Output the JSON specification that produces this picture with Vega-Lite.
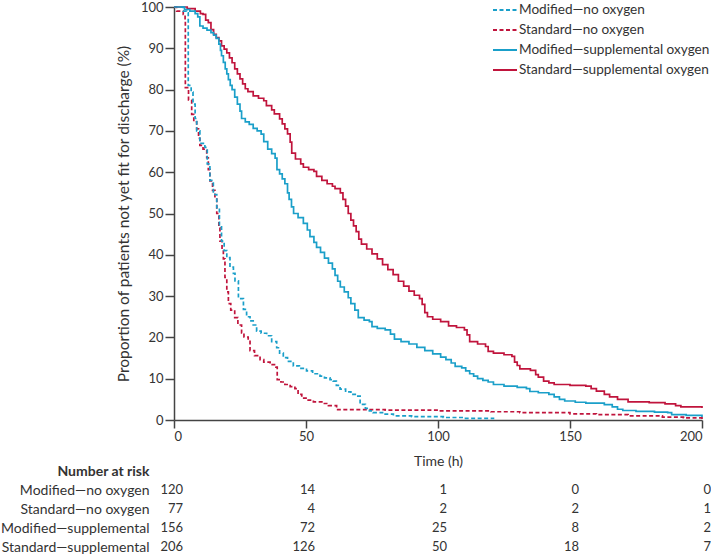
{
  "$schema": "https://vega.github.io/schema/vega-lite/v6.json",
  "background": "white",
  "padding": {"left": 0, "top": -3, "right": 0, "bottom": 0},
  "config": {
    "font": "Lato",
    "view": {"stroke": null},
    "axis": {"labelColor": "#333333", "titleColor": "#333333", "domainColor": "#444444", "tickColor": "#444444", "labelFontSize": 13, "titleFontSize": 14, "titleFontWeight": "normal", "grid": false, "domainWidth": 1.5, "tickWidth": 1.5}
  },
  "datasets": {
    "curves": [
      {"g":"Standard—supplemental oxygen","t":0,"v":100},{"g":"Standard—supplemental oxygen","t":5,"v":99.6},{"g":"Standard—supplemental oxygen","t":8,"v":99},{"g":"Standard—supplemental oxygen","t":10,"v":98.4},{"g":"Standard—supplemental oxygen","t":11,"v":98.2},{"g":"Standard—supplemental oxygen","t":12,"v":96.8},{"g":"Standard—supplemental oxygen","t":13,"v":96.2},{"g":"Standard—supplemental oxygen","t":14,"v":94.5},{"g":"Standard—supplemental oxygen","t":15,"v":93.4},{"g":"Standard—supplemental oxygen","t":16,"v":92.6},{"g":"Standard—supplemental oxygen","t":17,"v":91.8},{"g":"Standard—supplemental oxygen","t":18,"v":90.6},{"g":"Standard—supplemental oxygen","t":19,"v":89.8},{"g":"Standard—supplemental oxygen","t":20,"v":88.9},{"g":"Standard—supplemental oxygen","t":21,"v":87.7},{"g":"Standard—supplemental oxygen","t":22,"v":86.5},{"g":"Standard—supplemental oxygen","t":23,"v":85},{"g":"Standard—supplemental oxygen","t":24,"v":83.8},{"g":"Standard—supplemental oxygen","t":25,"v":82.6},{"g":"Standard—supplemental oxygen","t":26,"v":81.4},{"g":"Standard—supplemental oxygen","t":27,"v":80.2},{"g":"Standard—supplemental oxygen","t":28,"v":79.5},{"g":"Standard—supplemental oxygen","t":30,"v":78.5},{"g":"Standard—supplemental oxygen","t":32,"v":77.9},{"g":"Standard—supplemental oxygen","t":34,"v":77.3},{"g":"Standard—supplemental oxygen","t":35,"v":76.1},{"g":"Standard—supplemental oxygen","t":37,"v":75.1},{"g":"Standard—supplemental oxygen","t":38,"v":74.1},{"g":"Standard—supplemental oxygen","t":40,"v":72.9},{"g":"Standard—supplemental oxygen","t":41,"v":71.7},{"g":"Standard—supplemental oxygen","t":42,"v":70.5},{"g":"Standard—supplemental oxygen","t":43,"v":69.3},{"g":"Standard—supplemental oxygen","t":44,"v":67.3},{"g":"Standard—supplemental oxygen","t":44.6,"v":64.6},{"g":"Standard—supplemental oxygen","t":46,"v":63.2},{"g":"Standard—supplemental oxygen","t":48,"v":62},{"g":"Standard—supplemental oxygen","t":49,"v":61.2},{"g":"Standard—supplemental oxygen","t":51,"v":60.6},{"g":"Standard—supplemental oxygen","t":53,"v":60.2},{"g":"Standard—supplemental oxygen","t":54,"v":59},{"g":"Standard—supplemental oxygen","t":56,"v":58},{"g":"Standard—supplemental oxygen","t":58,"v":57.2},{"g":"Standard—supplemental oxygen","t":60,"v":56.6},{"g":"Standard—supplemental oxygen","t":61,"v":56},{"g":"Standard—supplemental oxygen","t":63,"v":55},{"g":"Standard—supplemental oxygen","t":64,"v":53.4},{"g":"Standard—supplemental oxygen","t":65,"v":51.8},{"g":"Standard—supplemental oxygen","t":66,"v":50},{"g":"Standard—supplemental oxygen","t":67,"v":48.4},{"g":"Standard—supplemental oxygen","t":68,"v":47},{"g":"Standard—supplemental oxygen","t":69,"v":45.6},{"g":"Standard—supplemental oxygen","t":70,"v":43.8},{"g":"Standard—supplemental oxygen","t":71,"v":42.6},{"g":"Standard—supplemental oxygen","t":73,"v":41.4},{"g":"Standard—supplemental oxygen","t":75,"v":40.2},{"g":"Standard—supplemental oxygen","t":77,"v":39},{"g":"Standard—supplemental oxygen","t":79,"v":37.6},{"g":"Standard—supplemental oxygen","t":81,"v":36.4},{"g":"Standard—supplemental oxygen","t":83,"v":35.2},{"g":"Standard—supplemental oxygen","t":85,"v":33.6},{"g":"Standard—supplemental oxygen","t":87,"v":32.4},{"g":"Standard—supplemental oxygen","t":89,"v":31.2},{"g":"Standard—supplemental oxygen","t":91,"v":30.2},{"g":"Standard—supplemental oxygen","t":93,"v":29.4},{"g":"Standard—supplemental oxygen","t":94,"v":28},{"g":"Standard—supplemental oxygen","t":95,"v":26},{"g":"Standard—supplemental oxygen","t":96,"v":25},{"g":"Standard—supplemental oxygen","t":98,"v":24.4},{"g":"Standard—supplemental oxygen","t":101,"v":23.8},{"g":"Standard—supplemental oxygen","t":104,"v":22.8},{"g":"Standard—supplemental oxygen","t":107,"v":22.4},{"g":"Standard—supplemental oxygen","t":110,"v":21.8},{"g":"Standard—supplemental oxygen","t":111,"v":20.6},{"g":"Standard—supplemental oxygen","t":112,"v":19},{"g":"Standard—supplemental oxygen","t":115,"v":18.4},{"g":"Standard—supplemental oxygen","t":118,"v":17.8},{"g":"Standard—supplemental oxygen","t":119,"v":16.6},{"g":"Standard—supplemental oxygen","t":121,"v":16.2},{"g":"Standard—supplemental oxygen","t":125,"v":15.8},{"g":"Standard—supplemental oxygen","t":128,"v":15.4},{"g":"Standard—supplemental oxygen","t":129,"v":14},{"g":"Standard—supplemental oxygen","t":130,"v":13.2},{"g":"Standard—supplemental oxygen","t":131,"v":12.4},{"g":"Standard—supplemental oxygen","t":135,"v":12},{"g":"Standard—supplemental oxygen","t":137,"v":11},{"g":"Standard—supplemental oxygen","t":138,"v":10.4},{"g":"Standard—supplemental oxygen","t":140,"v":9.4},{"g":"Standard—supplemental oxygen","t":142,"v":9},{"g":"Standard—supplemental oxygen","t":144,"v":8.6},{"g":"Standard—supplemental oxygen","t":150,"v":8.4},{"g":"Standard—supplemental oxygen","t":156,"v":8.2},{"g":"Standard—supplemental oxygen","t":158,"v":7.6},{"g":"Standard—supplemental oxygen","t":160,"v":7},{"g":"Standard—supplemental oxygen","t":163,"v":6.2},{"g":"Standard—supplemental oxygen","t":165,"v":5.6},{"g":"Standard—supplemental oxygen","t":168,"v":5},{"g":"Standard—supplemental oxygen","t":172,"v":4.4},{"g":"Standard—supplemental oxygen","t":180,"v":4.2},{"g":"Standard—supplemental oxygen","t":186,"v":3.9},{"g":"Standard—supplemental oxygen","t":190,"v":3.5},{"g":"Standard—supplemental oxygen","t":192,"v":3.2},{"g":"Standard—supplemental oxygen","t":200,"v":2.9},

      {"g":"Modified—supplemental oxygen","t":0,"v":100},{"g":"Modified—supplemental oxygen","t":4,"v":99.4},{"g":"Modified—supplemental oxygen","t":6,"v":99},{"g":"Modified—supplemental oxygen","t":8,"v":98.4},{"g":"Modified—supplemental oxygen","t":9,"v":97.6},{"g":"Modified—supplemental oxygen","t":9.8,"v":95.4},{"g":"Modified—supplemental oxygen","t":11,"v":94.9},{"g":"Modified—supplemental oxygen","t":12.5,"v":94.4},{"g":"Modified—supplemental oxygen","t":14,"v":93.8},{"g":"Modified—supplemental oxygen","t":15,"v":93.2},{"g":"Modified—supplemental oxygen","t":16,"v":92.4},{"g":"Modified—supplemental oxygen","t":17,"v":91},{"g":"Modified—supplemental oxygen","t":17.6,"v":89.5},{"g":"Modified—supplemental oxygen","t":18,"v":88.2},{"g":"Modified—supplemental oxygen","t":18.7,"v":86.6},{"g":"Modified—supplemental oxygen","t":19.4,"v":85},{"g":"Modified—supplemental oxygen","t":20,"v":83.8},{"g":"Modified—supplemental oxygen","t":20.6,"v":82.4},{"g":"Modified—supplemental oxygen","t":21.3,"v":81},{"g":"Modified—supplemental oxygen","t":22,"v":80},{"g":"Modified—supplemental oxygen","t":23,"v":78.2},{"g":"Modified—supplemental oxygen","t":24,"v":76.5},{"g":"Modified—supplemental oxygen","t":25,"v":74.8},{"g":"Modified—supplemental oxygen","t":25.6,"v":73},{"g":"Modified—supplemental oxygen","t":27,"v":72.2},{"g":"Modified—supplemental oxygen","t":28.5,"v":71.6},{"g":"Modified—supplemental oxygen","t":30,"v":70.6},{"g":"Modified—supplemental oxygen","t":31.5,"v":70},{"g":"Modified—supplemental oxygen","t":33,"v":69.2},{"g":"Modified—supplemental oxygen","t":34,"v":67.4},{"g":"Modified—supplemental oxygen","t":35.5,"v":65.6},{"g":"Modified—supplemental oxygen","t":37,"v":64.5},{"g":"Modified—supplemental oxygen","t":38.3,"v":63.4},{"g":"Modified—supplemental oxygen","t":39,"v":60.6},{"g":"Modified—supplemental oxygen","t":40,"v":59.6},{"g":"Modified—supplemental oxygen","t":41,"v":58.4},{"g":"Modified—supplemental oxygen","t":42,"v":57.2},{"g":"Modified—supplemental oxygen","t":43,"v":55},{"g":"Modified—supplemental oxygen","t":43.6,"v":53.4},{"g":"Modified—supplemental oxygen","t":44.5,"v":51.6},{"g":"Modified—supplemental oxygen","t":45.3,"v":50},{"g":"Modified—supplemental oxygen","t":47,"v":49},{"g":"Modified—supplemental oxygen","t":49,"v":47.6},{"g":"Modified—supplemental oxygen","t":50.5,"v":46},{"g":"Modified—supplemental oxygen","t":51.5,"v":44.4},{"g":"Modified—supplemental oxygen","t":53,"v":43},{"g":"Modified—supplemental oxygen","t":54,"v":41.8},{"g":"Modified—supplemental oxygen","t":55.5,"v":40.6},{"g":"Modified—supplemental oxygen","t":57,"v":39.2},{"g":"Modified—supplemental oxygen","t":58.5,"v":38},{"g":"Modified—supplemental oxygen","t":60,"v":36.6},{"g":"Modified—supplemental oxygen","t":61,"v":35},{"g":"Modified—supplemental oxygen","t":62,"v":33.6},{"g":"Modified—supplemental oxygen","t":63,"v":32.2},{"g":"Modified—supplemental oxygen","t":64.5,"v":31},{"g":"Modified—supplemental oxygen","t":66,"v":29.6},{"g":"Modified—supplemental oxygen","t":67,"v":28.2},{"g":"Modified—supplemental oxygen","t":68.5,"v":26.6},{"g":"Modified—supplemental oxygen","t":69.8,"v":24.8},{"g":"Modified—supplemental oxygen","t":72,"v":24.2},{"g":"Modified—supplemental oxygen","t":74,"v":23.8},{"g":"Modified—supplemental oxygen","t":75,"v":22.6},{"g":"Modified—supplemental oxygen","t":77,"v":22.2},{"g":"Modified—supplemental oxygen","t":80,"v":21.8},{"g":"Modified—supplemental oxygen","t":82,"v":20.8},{"g":"Modified—supplemental oxygen","t":83.5,"v":19.6},{"g":"Modified—supplemental oxygen","t":86,"v":19},{"g":"Modified—supplemental oxygen","t":89,"v":18.4},{"g":"Modified—supplemental oxygen","t":92,"v":17.6},{"g":"Modified—supplemental oxygen","t":95,"v":16.8},{"g":"Modified—supplemental oxygen","t":98,"v":16},{"g":"Modified—supplemental oxygen","t":101,"v":15.2},{"g":"Modified—supplemental oxygen","t":103,"v":14.6},{"g":"Modified—supplemental oxygen","t":105,"v":13.8},{"g":"Modified—supplemental oxygen","t":106.5,"v":13},{"g":"Modified—supplemental oxygen","t":109,"v":12.6},{"g":"Modified—supplemental oxygen","t":110.5,"v":11.9},{"g":"Modified—supplemental oxygen","t":112,"v":11.2},{"g":"Modified—supplemental oxygen","t":113.5,"v":10.6},{"g":"Modified—supplemental oxygen","t":115,"v":10},{"g":"Modified—supplemental oxygen","t":117,"v":9.6},{"g":"Modified—supplemental oxygen","t":119,"v":9.2},{"g":"Modified—supplemental oxygen","t":121,"v":8.6},{"g":"Modified—supplemental oxygen","t":125,"v":8.2},{"g":"Modified—supplemental oxygen","t":130,"v":7.9},{"g":"Modified—supplemental oxygen","t":133.5,"v":7.6},{"g":"Modified—supplemental oxygen","t":134.8,"v":6.9},{"g":"Modified—supplemental oxygen","t":138,"v":6.6},{"g":"Modified—supplemental oxygen","t":142,"v":6.2},{"g":"Modified—supplemental oxygen","t":144,"v":5.6},{"g":"Modified—supplemental oxygen","t":146,"v":5},{"g":"Modified—supplemental oxygen","t":148,"v":4.6},{"g":"Modified—supplemental oxygen","t":152,"v":4.3},{"g":"Modified—supplemental oxygen","t":156,"v":4.1},{"g":"Modified—supplemental oxygen","t":163,"v":3.7},{"g":"Modified—supplemental oxygen","t":166,"v":3.2},{"g":"Modified—supplemental oxygen","t":168,"v":2.6},{"g":"Modified—supplemental oxygen","t":170,"v":2.3},{"g":"Modified—supplemental oxygen","t":175,"v":2.1},{"g":"Modified—supplemental oxygen","t":182,"v":1.9},{"g":"Modified—supplemental oxygen","t":187,"v":1.8},{"g":"Modified—supplemental oxygen","t":188.5,"v":1.3},{"g":"Modified—supplemental oxygen","t":194,"v":1.1},{"g":"Modified—supplemental oxygen","t":200,"v":0.7},

      {"g":"Standard—no oxygen","t":0,"v":100},{"g":"Standard—no oxygen","t":1,"v":99},{"g":"Standard—no oxygen","t":3.5,"v":98.2},{"g":"Standard—no oxygen","t":4.2,"v":96.6},{"g":"Standard—no oxygen","t":4.3,"v":80.5},{"g":"Standard—no oxygen","t":5.5,"v":77.5},{"g":"Standard—no oxygen","t":6.7,"v":74},{"g":"Standard—no oxygen","t":7.5,"v":72.2},{"g":"Standard—no oxygen","t":8.6,"v":70.5},{"g":"Standard—no oxygen","t":9.3,"v":68.2},{"g":"Standard—no oxygen","t":9.8,"v":66.5},{"g":"Standard—no oxygen","t":11,"v":65.6},{"g":"Standard—no oxygen","t":12.4,"v":63.5},{"g":"Standard—no oxygen","t":13,"v":60.6},{"g":"Standard—no oxygen","t":13.6,"v":57.9},{"g":"Standard—no oxygen","t":14.6,"v":55.6},{"g":"Standard—no oxygen","t":15.5,"v":53.8},{"g":"Standard—no oxygen","t":16.2,"v":50},{"g":"Standard—no oxygen","t":17,"v":46.5},{"g":"Standard—no oxygen","t":17.4,"v":43.3},{"g":"Standard—no oxygen","t":18.2,"v":41.2},{"g":"Standard—no oxygen","t":18.7,"v":39},{"g":"Standard—no oxygen","t":19.3,"v":34.5},{"g":"Standard—no oxygen","t":20,"v":31},{"g":"Standard—no oxygen","t":20.6,"v":28.2},{"g":"Standard—no oxygen","t":21.5,"v":26.6},{"g":"Standard—no oxygen","t":23,"v":24.8},{"g":"Standard—no oxygen","t":24.2,"v":23},{"g":"Standard—no oxygen","t":25.6,"v":21.1},{"g":"Standard—no oxygen","t":26.5,"v":20.1},{"g":"Standard—no oxygen","t":28.1,"v":19.4},{"g":"Standard—no oxygen","t":28.8,"v":16.8},{"g":"Standard—no oxygen","t":30.5,"v":15.6},{"g":"Standard—no oxygen","t":32.6,"v":14.6},{"g":"Standard—no oxygen","t":34,"v":14},{"g":"Standard—no oxygen","t":36.4,"v":13.4},{"g":"Standard—no oxygen","t":38.6,"v":12.8},{"g":"Standard—no oxygen","t":39.1,"v":9.8},{"g":"Standard—no oxygen","t":40.5,"v":9.2},{"g":"Standard—no oxygen","t":42,"v":8.6},{"g":"Standard—no oxygen","t":44,"v":8.1},{"g":"Standard—no oxygen","t":45.8,"v":7.6},{"g":"Standard—no oxygen","t":47,"v":6.2},{"g":"Standard—no oxygen","t":48.4,"v":5.3},{"g":"Standard—no oxygen","t":50.5,"v":4.8},{"g":"Standard—no oxygen","t":52.8,"v":4.4},{"g":"Standard—no oxygen","t":56,"v":4},{"g":"Standard—no oxygen","t":58.5,"v":3.5},{"g":"Standard—no oxygen","t":61.6,"v":2.5},{"g":"Standard—no oxygen","t":80,"v":2.4},{"g":"Standard—no oxygen","t":100,"v":2.2},{"g":"Standard—no oxygen","t":120,"v":2},{"g":"Standard—no oxygen","t":131,"v":1.8},{"g":"Standard—no oxygen","t":150,"v":1.5},{"g":"Standard—no oxygen","t":160,"v":1.3},{"g":"Standard—no oxygen","t":172,"v":1},{"g":"Standard—no oxygen","t":185,"v":0.7},{"g":"Standard—no oxygen","t":193,"v":0.5},{"g":"Standard—no oxygen","t":200,"v":0.2},

      {"g":"Modified—no oxygen","t":0,"v":100},{"g":"Modified—no oxygen","t":3.5,"v":99},{"g":"Modified—no oxygen","t":4.8,"v":98.6},{"g":"Modified—no oxygen","t":5.4,"v":81},{"g":"Modified—no oxygen","t":6.5,"v":79.4},{"g":"Modified—no oxygen","t":7.2,"v":76.5},{"g":"Modified—no oxygen","t":8,"v":73},{"g":"Modified—no oxygen","t":8.6,"v":70},{"g":"Modified—no oxygen","t":9.8,"v":67},{"g":"Modified—no oxygen","t":11.7,"v":66},{"g":"Modified—no oxygen","t":12.6,"v":62},{"g":"Modified—no oxygen","t":13.6,"v":58},{"g":"Modified—no oxygen","t":14.9,"v":54.6},{"g":"Modified—no oxygen","t":16.2,"v":51.4},{"g":"Modified—no oxygen","t":17.2,"v":47},{"g":"Modified—no oxygen","t":18,"v":43.3},{"g":"Modified—no oxygen","t":19,"v":41},{"g":"Modified—no oxygen","t":20,"v":39.3},{"g":"Modified—no oxygen","t":21.2,"v":37},{"g":"Modified—no oxygen","t":22.5,"v":35.5},{"g":"Modified—no oxygen","t":23.1,"v":33.7},{"g":"Modified—no oxygen","t":24.4,"v":29.4},{"g":"Modified—no oxygen","t":26.3,"v":26.8},{"g":"Modified—no oxygen","t":27.5,"v":25},{"g":"Modified—no oxygen","t":28.8,"v":24},{"g":"Modified—no oxygen","t":30,"v":23},{"g":"Modified—no oxygen","t":31.3,"v":21.5},{"g":"Modified—no oxygen","t":33,"v":21},{"g":"Modified—no oxygen","t":35.1,"v":20.4},{"g":"Modified—no oxygen","t":37,"v":19},{"g":"Modified—no oxygen","t":38.9,"v":17.5},{"g":"Modified—no oxygen","t":40,"v":16.2},{"g":"Modified—no oxygen","t":41.4,"v":15.1},{"g":"Modified—no oxygen","t":43,"v":14.2},{"g":"Modified—no oxygen","t":45.2,"v":13.1},{"g":"Modified—no oxygen","t":47.5,"v":12.5},{"g":"Modified—no oxygen","t":50.2,"v":11.9},{"g":"Modified—no oxygen","t":52.5,"v":11.2},{"g":"Modified—no oxygen","t":55.3,"v":10.6},{"g":"Modified—no oxygen","t":57,"v":10.2},{"g":"Modified—no oxygen","t":59.1,"v":9.8},{"g":"Modified—no oxygen","t":60.3,"v":9.4},{"g":"Modified—no oxygen","t":61.5,"v":8.4},{"g":"Modified—no oxygen","t":62.9,"v":7.5},{"g":"Modified—no oxygen","t":65,"v":6.8},{"g":"Modified—no oxygen","t":67,"v":6.2},{"g":"Modified—no oxygen","t":69.2,"v":5.8},{"g":"Modified—no oxygen","t":70.5,"v":3.8},{"g":"Modified—no oxygen","t":72.5,"v":2.8},{"g":"Modified—no oxygen","t":74,"v":2.2},{"g":"Modified—no oxygen","t":75.4,"v":1.8},{"g":"Modified—no oxygen","t":79,"v":1.4},{"g":"Modified—no oxygen","t":83.1,"v":1},{"g":"Modified—no oxygen","t":90,"v":0.8},{"g":"Modified—no oxygen","t":102,"v":0.6},{"g":"Modified—no oxygen","t":110,"v":0.4},{"g":"Modified—no oxygen","t":121,"v":0.2}
    ],
    "risk": [
      {"row":"Modified—no oxygen","t":0,"n":120},{"row":"Modified—no oxygen","t":50,"n":14},{"row":"Modified—no oxygen","t":100,"n":1},{"row":"Modified—no oxygen","t":150,"n":0},{"row":"Modified—no oxygen","t":200,"n":0},
      {"row":"Standard—no oxygen","t":0,"n":77},{"row":"Standard—no oxygen","t":50,"n":4},{"row":"Standard—no oxygen","t":100,"n":2},{"row":"Standard—no oxygen","t":150,"n":2},{"row":"Standard—no oxygen","t":200,"n":1},
      {"row":"Modified—supplemental","t":0,"n":156},{"row":"Modified—supplemental","t":50,"n":72},{"row":"Modified—supplemental","t":100,"n":25},{"row":"Modified—supplemental","t":150,"n":8},{"row":"Modified—supplemental","t":200,"n":2},
      {"row":"Standard—supplemental","t":0,"n":206},{"row":"Standard—supplemental","t":50,"n":126},{"row":"Standard—supplemental","t":100,"n":50},{"row":"Standard—supplemental","t":150,"n":18},{"row":"Standard—supplemental","t":200,"n":7}
    ]
  },
  "bounds": "flush",
  "spacing": 51,
  "vconcat": [
    {
      "width": 528,
      "height": 413,
      "data": {"name": "curves"},
      "mark": {"type": "line", "interpolate": "step-after", "strokeWidth": 1.7},
      "encoding": {
        "x": {"field": "t", "type": "quantitative", "scale": {"domain": [0, 200], "nice": false},
          "axis": {"values": [0, 50, 100, 150, 200], "title": "Time (h)", "tickSize": 8, "labelPadding": 2, "titlePadding": 11}},
        "y": {"field": "v", "type": "quantitative", "scale": {"domain": [0, 100], "nice": false},
          "axis": {"values": [0,10,20,30,40,50,60,70,80,90,100], "title": "Proportion of patients not yet fit for discharge (%)", "titleFontSize": 15.5, "tickSize": 9, "labelPadding": 2, "titlePadding": 9}},
        "color": {"field": "g", "type": "nominal",
          "scale": {"domain": ["Modified—no oxygen", "Standard—no oxygen", "Modified—supplemental oxygen", "Standard—supplemental oxygen"], "range": ["#1a9fc9", "#c0143c", "#1a9fc9", "#c0143c"]},
          "legend": {"title": null, "orient": "none", "legendX": 318, "legendY": -10, "symbolType": "stroke", "symbolSize": 576, "symbolStrokeWidth": 2, "labelFontSize": 13.6, "labelColor": "#333333", "labelLimit": 300, "rowPadding": -2.5, "labelOffset": 1}},
        "strokeDash": {"field": "g", "type": "nominal",
          "scale": {"domain": ["Modified—no oxygen", "Standard—no oxygen", "Modified—supplemental oxygen", "Standard—supplemental oxygen"], "range": [[4, 2.5], [4, 2.5], [1, 0], [1, 0]]},
          "legend": {"title": null, "orient": "none", "legendX": 318, "legendY": -10, "symbolType": "stroke", "symbolSize": 576, "symbolStrokeWidth": 2, "labelFontSize": 13.6, "labelColor": "#333333", "labelLimit": 300, "rowPadding": -2.5, "labelOffset": 1}}
      }
    },
    {
      "width": 528,
      "height": 76,
      "data": {"name": "risk"},
      "mark": {"type": "text", "align": "right", "dx": 9, "fontSize": 13, "color": "#333333", "baseline": "middle"},
      "encoding": {
        "x": {"field": "t", "type": "quantitative", "scale": {"domain": [0, 200], "nice": false}, "axis": null},
        "y": {"field": "row", "type": "ordinal",
          "scale": {"domain": ["Number at risk", "Modified—no oxygen", "Standard—no oxygen", "Modified—supplemental", "Standard—supplemental"], "type": "point", "padding": 0},
          "axis": {"title": null, "domain": false, "ticks": false, "labelPadding": 25, "labelFontSize": 14, "labelColor": "#333333", "labelLimit": 300,
            "labelFontWeight": {"condition": {"test": "datum.value === 'Number at risk'", "value": "bold"}, "value": "normal"}}},
        "text": {"field": "n", "type": "quantitative"}
      }
    }
  ]
}
